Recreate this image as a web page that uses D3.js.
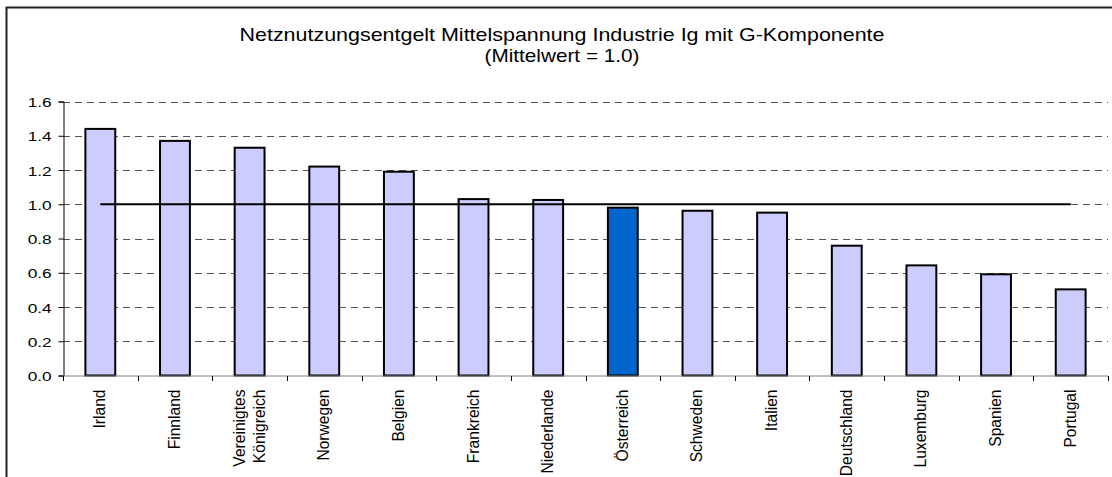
<!DOCTYPE html>
<html>
<head>
<meta charset="utf-8">
<title>Netznutzungsentgelt Mittelspannung</title>
<style>
  body { margin: 0; background: #fff; }
  text { font-family: 'Liberation Sans', Arial, sans-serif; fill: #000; }
</style>
</head>
<body>
<script src="https://d3js.org/d3.v7.min.js"></script>
<script>
  var width = 1112, height = 477;

  // data
  var laender = ["Irland", "Finnland", "Vereinigtes Königreich", "Norwegen", "Belgien",
                 "Frankreich", "Niederlande", "Österreich", "Schweden", "Italien",
                 "Deutschland", "Luxemburg", "Spanien", "Portugal"];
  var werte = [1.44, 1.37, 1.33, 1.22, 1.19, 1.03, 1.025, 0.98, 0.962, 0.951,
               0.758, 0.643, 0.591, 0.503];
  var mittelwert = 1.0;
  var yTicks = [0, 0.2, 0.4, 0.6, 0.8, 1.0, 1.2, 1.4, 1.6];
  var titel = ["Netznutzungsentgelt Mittelspannung Industrie Ig mit G-Komponente",
               "(Mittelwert = 1.0)"];
  var titelBreite = [645, 155];
  var hervorheben = "Österreich";

  var margin = {left: 63, right: 4, top: 101.5};
  var stretch = 1.37; // Schrift im Original horizontal gestreckt

  var svg = d3.select("body").append("svg")
      .attr("width", width)
      .attr("height", height);

  // Rahmen (nur oben und links sichtbar)
  svg.append("rect")
      .attr("x", 6.5).attr("y", 7.5)
      .attr("width", 1200).attr("height", 600)
      .attr("fill", "none")
      .attr("stroke", "#222")
      .attr("stroke-width", 2);

  var x = d3.scaleBand()
      .domain(laender)
      .range([margin.left, width - margin.right])
      .paddingInner(0).paddingOuter(0);

  var y = d3.scaleLinear()
      .domain([0, 1.6])
      .range([375.5, margin.top]);

  // Gitterlinien
  svg.append("g").selectAll("line")
      .data(yTicks.filter(function(d) { return d > 0; }))
      .enter().append("line")
      .attr("x1", margin.left).attr("x2", width - margin.right)
      .attr("y1", function(d) { return Math.round(y(d)) + 0.5; })
      .attr("y2", function(d) { return Math.round(y(d)) + 0.5; })
      .attr("stroke", "#555")
      .attr("stroke-dasharray", "7,5");

  // Titel
  svg.append("g").selectAll("text")
      .data(titel).enter().append("text")
      .attr("x", 562)
      .attr("y", function(d, i) { return 40.7 + i * 21.5; })
      .attr("text-anchor", "middle")
      .attr("textLength", function(d, i) { return titelBreite[i]; })
      .attr("lengthAdjust", "spacingAndGlyphs")
      .style("font-size", "18.6px")
      .text(function(d) { return d; });

  // Balken
  var bw = x.bandwidth() * 0.4;
  svg.append("g").selectAll("rect")
      .data(werte).enter().append("rect")
      .attr("x", function(d, i) { return x(laender[i]) + x.bandwidth() / 2 - bw / 2; })
      .attr("y", function(d) { return y(d); })
      .attr("width", bw)
      .attr("height", function(d) { return y(0) - y(d); })
      .attr("fill", function(d, i) { return laender[i] === hervorheben ? "#0066cc" : "#ccccff"; })
      .attr("stroke", "#000")
      .attr("stroke-width", 2);

  // Mittelwert-Linie
  svg.append("line")
      .attr("x1", x(laender[0]) + x.bandwidth() / 2)
      .attr("x2", x(laender[laender.length - 1]) + x.bandwidth() / 2)
      .attr("y1", y(mittelwert)).attr("y2", y(mittelwert))
      .attr("stroke", "#000")
      .attr("stroke-width", 2);

  // y-Achse
  var yAxis = d3.axisLeft(y)
      .tickValues(yTicks)
      .tickSize(5)
      .tickFormat(d3.format(".1f"));
  var gy = svg.append("g")
      .attr("transform", "translate(" + (margin.left + 0.5) + ",0)")
      .call(yAxis);
  gy.select(".domain").attr("stroke", "#000");
  gy.selectAll(".tick text")
      .attr("x", -11.8 / stretch)
      .attr("dy", "0.4em")
      .attr("transform", "scale(" + stretch + ",1)")
      .style("font-size", "12.6px")
      .style("font-family", "'Liberation Sans', Arial, sans-serif");

  // x-Achse
  var gx = svg.append("g")
      .attr("transform", "translate(0," + (y(0) + 0.5) + ")");
  gx.append("line")
      .attr("x1", margin.left).attr("x2", width - margin.right)
      .attr("stroke", "#808080");
  var grenzen = laender.map(function(d) { return x(d); }).concat([width - margin.right]);
  gx.selectAll("line.tick")
      .data(grenzen).enter().append("line")
      .attr("class", "tick")
      .attr("x1", function(d) { return Math.round(d) + 0.5; })
      .attr("x2", function(d) { return Math.round(d) + 0.5; })
      .attr("y1", 0).attr("y2", 5)
      .attr("stroke", "#000");

  var labels = gx.selectAll("text.lbl")
      .data(laender).enter().append("text")
      .attr("class", "lbl")
      .attr("transform", function(d) {
        return "translate(" + (x(d) + x.bandwidth() / 2) + ",13.5) rotate(-90)";
      })
      .attr("text-anchor", "end")
      .style("font-size", "15.6px");

  labels.each(function(d) {
    var parts = d === "Vereinigtes Königreich" ? ["Vereinigtes", "Königreich"] : [d];
    var t = d3.select(this);
    parts.forEach(function(p, i) {
      t.append("tspan")
        .attr("x", 0)
        .attr("y", (i - (parts.length - 1) / 2) * 20 + 5)
        .text(p);
    });
  });
</script>
</body>
</html>
